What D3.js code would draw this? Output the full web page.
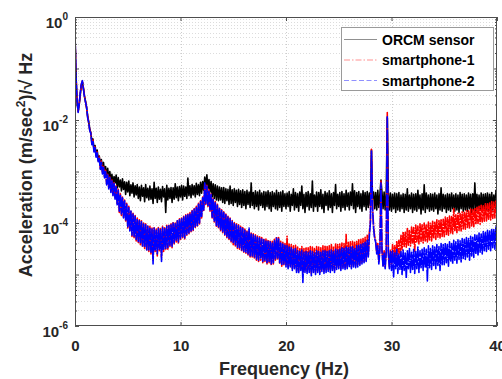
<!DOCTYPE html>
<html><head><meta charset="utf-8">
<script src="https://cdn.jsdelivr.net/npm/d3@7"></script>
<style>
body{margin:0;background:#fff;}
svg{display:block;font-family:"Liberation Sans",Arial,sans-serif;}
</style></head><body>
<svg id="chart" width="502" height="379"></svg>
<script>
// frequency sampling of the spectra (Hz)
const freqStep = 0.1;
const xTicks = [0, 10, 20, 30, 40];
const yTickExps = [0, -2, -4, -6];
const seriesNames = ["ORCM sensor", "smartphone-1", "smartphone-2"];

// amplitude spectral density, (m/sec^2)/sqrt(Hz), one value every 0.1 Hz from 0 to 40 Hz
const orcmSensor = [
0.4,0.065,0.022,0.015,0.02,0.031,0.047,0.054,0.041,0.029,
0.023,0.017,0.012,0.0092,0.0066,0.0057,0.0038,0.0043,0.0027,0.0032,
0.0021,0.0026,0.0017,0.002,0.0013,0.0017,0.0011,0.0015,9.5e-4,1.25e-3,
8e-4,1.15e-3,7e-4,1e-3,6.5e-4,8.8e-4,5.6e-4,8e-4,6e-4,8.5e-4,
4.8e-4,7.6e-4,5e-4,6.8e-4,4.2e-4,7.2e-4,4.5e-4,6.3e-4,3.6e-4,6.2e-4,
4e-4,6.5e-4,3.4e-4,5.5e-4,3.8e-4,6e-4,3.2e-4,5.3e-4,3.5e-4,5.6e-4,
3e-4,5e-4,2.7e-4,5.4e-4,3.3e-4,4.8e-4,2.6e-4,5.6e-4,3.1e-4,4.7e-4,
2.8e-4,5.2e-4,2.9e-4,4.6e-4,2.4e-4,6.2e-4,3e-4,4.7e-4,2.5e-4,5e-4,
2.9e-4,4.5e-4,2.6e-4,5.1e-4,3.2e-4,4.6e-4,1.6e-4,5.4e-4,2.8e-4,4.7e-4,
3e-4,4.9e-4,2.5e-4,4.8e-4,2.9e-4,5.8e-4,3.1e-4,5e-4,2.7e-4,5.1e-4,
3.2e-4,5.4e-4,2.8e-4,5.2e-4,3.3e-4,5e-4,3e-4,7.5e-4,3.4e-4,5.3e-4,
3.1e-4,5.6e-4,3.5e-4,5.3e-4,3.2e-4,5.9e-4,3.6e-4,5.5e-4,3.4e-4,6.2e-4,
3.8e-4,6.4e-4,4.3e-4,7.8e-4,5e-4,8.6e-4,4.6e-4,7e-4,4e-4,6.4e-4,
3.2e-4,5.8e-4,3e-4,5.5e-4,2.8e-4,5.2e-4,2.7e-4,5e-4,2.8e-4,4.8e-4,
2.5e-4,4.9e-4,2.4e-4,4.6e-4,2.7e-4,4.5e-4,2.3e-4,5.2e-4,2.4e-4,4.4e-4,
2.2e-4,4.6e-4,2.5e-4,4.3e-4,2.1e-4,4.5e-4,2.3e-4,4.2e-4,2e-4,4.4e-4,
2.2e-4,4.1e-4,1.9e-4,4.3e-4,2.3e-4,4e-4,2e-4,6e-4,2.2e-4,3.9e-4,
1.9e-4,4.2e-4,2.1e-4,4e-4,1.8e-4,4.3e-4,2.2e-4,3.8e-4,2e-4,4.1e-4,
1.8e-4,4e-4,2.1e-4,4.2e-4,1.9e-4,3.9e-4,1.7e-4,4.1e-4,2.1e-4,3.8e-4,
1.9e-4,4.3e-4,1.8e-4,3.9e-4,2e-4,4e-4,1.7e-4,4.2e-4,2.1e-4,3.7e-4,
1.9e-4,3.8e-4,2.1e-4,4.1e-4,1.7e-4,3.6e-4,2.2e-4,4.6e-4,1.8e-4,3.9e-4,
2e-4,3.7e-4,1.7e-4,4e-4,2.2e-4,5.2e-4,1.9e-4,3.6e-4,1.6e-4,3.9e-4,
2.1e-4,4.1e-4,1.8e-4,3.7e-4,2e-4,6.5e-4,1.7e-4,3.5e-4,2.1e-4,4e-4,
1.7e-4,3.9e-4,2.1e-4,4.4e-4,1.9e-4,3.6e-4,1.6e-4,4.1e-4,2.2e-4,3.8e-4,
1.8e-4,4.2e-4,2e-4,3.7e-4,1.6e-4,3.9e-4,2.2e-4,5.6e-4,1.9e-4,3.6e-4,
2.1e-4,3.9e-4,1.7e-4,4.1e-4,2e-4,3.7e-4,1.8e-4,4.3e-4,2.1e-4,3.8e-4,
1.8e-4,4e-4,2.2e-4,5.8e-4,1.9e-4,4.2e-4,1.6e-4,3.9e-4,2.1e-4,4.1e-4,
1.9e-4,3.7e-4,1.7e-4,4.2e-4,2.1e-4,3.9e-4,1.8e-4,4.1e-4,2e-4,3.8e-4,
2.2e-4,2.6e-3,3e-4,4e-4,1.9e-4,3.9e-4,1.8e-4,4.3e-4,2e-4,3.6e-4,
6.8e-4,3.9e-4,1.9e-4,4e-4,1.8e-4,3.8e-4,1.1e-2,3.9e-4,1.8e-4,3.8e-4,
1.7e-4,3.6e-4,1.9e-4,3.8e-4,1.6e-4,3.7e-4,1.8e-4,3.9e-4,1.7e-4,3.5e-4,
1.9e-4,3.7e-4,1.6e-4,3.6e-4,1.8e-4,4.6e-4,1.7e-4,3.5e-4,1.9e-4,3.8e-4,
1.6e-4,3.6e-4,1.8e-4,3.7e-4,1.7e-4,4.3e-4,1.9e-4,3.5e-4,1.5e-4,3.7e-4,
1.8e-4,5.5e-4,1.6e-4,3.8e-4,1.9e-4,3.5e-4,1.7e-4,3.7e-4,1.8e-4,3.6e-4,
1.7e-4,3.8e-4,1.9e-4,3.5e-4,1.5e-4,3.7e-4,1.8e-4,4.8e-4,1.7e-4,3.6e-4,
1.9e-4,3.5e-4,1.6e-4,3.7e-4,1.8e-4,3.6e-4,1.7e-4,3.8e-4,1.9e-4,3.5e-4,
1.7e-4,3.7e-4,1.8e-4,3.5e-4,1.6e-4,3.9e-4,1.9e-4,3.6e-4,1.7e-4,3.7e-4,
1.8e-4,3.5e-4,1.7e-4,3.8e-4,1.9e-4,3.6e-4,1.6e-4,3.7e-4,1.8e-4,6e-4,
1.7e-4,3.6e-4,1.9e-4,3.5e-4,1.8e-4,3.8e-4,1.7e-4,3.6e-4,1.9e-4,3.7e-4,
1.8e-4,3.8e-4,1.7e-4,3.6e-4,1.9e-4,3.9e-4,1.8e-4,3.5e-4,2e-4,4.3e-4,
2.7e-4];

const smartphone1 = [
0.45,0.068,0.023,0.0145,0.0205,0.033,0.049,0.057,0.041,0.029,
0.0225,0.0175,0.0115,0.0088,0.0064,0.0056,0.0034,0.0041,0.0025,0.003,
0.002,0.0024,0.0016,0.0019,0.00115,0.0016,9.5e-4,1.25e-3,7.8e-4,1.05e-3,
5.8e-4,8.8e-4,4.8e-4,7.8e-4,4.1e-4,6.8e-4,3.5e-4,6.1e-4,3e-4,5.3e-4,
2.3e-4,4.5e-4,1.6e-4,3.7e-4,1.4e-4,3.2e-4,1.3e-4,2.8e-4,1.1e-4,2.4e-4,
8e-5,2.1e-4,7.2e-5,1.75e-4,5.5e-5,1.55e-4,5.2e-5,1.4e-4,4.5e-5,1.25e-4,
4.2e-5,1.15e-4,3.8e-5,1.1e-4,3.4e-5,1e-4,3.2e-5,9.6e-5,2.9e-5,9e-5,
2.8e-5,8.6e-5,2.5e-5,8e-5,1.9e-5,8.4e-5,2.8e-5,7.6e-5,2.3e-5,8.2e-5,
2.9e-5,7.8e-5,2.2e-5,8.6e-5,2.8e-5,8.1e-5,3e-5,9e-5,3.1e-5,9.3e-5,
3.5e-5,9.6e-5,3.3e-5,1.05e-4,3.9e-5,1e-4,4.3e-5,1.15e-4,4.1e-5,1.2e-4,
4.8e-5,1.25e-4,5.2e-5,1.35e-4,4.9e-5,1.45e-4,5.8e-5,1.5e-4,6.2e-5,1.6e-4,
6.8e-5,1.75e-4,7.2e-5,1.9e-4,8.2e-5,2.1e-4,8.8e-5,2.4e-4,9.6e-5,2.7e-4,
1.25e-4,3.2e-4,1.75e-4,5.8e-4,2.3e-4,5.4e-4,2.1e-4,4.4e-4,1.7e-4,3.7e-4,
1.25e-4,3e-4,1.05e-4,2.6e-4,8.7e-5,2.3e-4,8.1e-5,2e-4,7.1e-5,1.8e-4,
6.5e-5,1.65e-4,5.8e-5,1.5e-4,5.2e-5,1.35e-4,4.8e-5,1.25e-4,4.3e-5,1.12e-4,
3.8e-5,1.02e-4,3.6e-5,9.6e-5,3.2e-5,9.2e-5,3.1e-5,8.6e-5,2.8e-5,8.2e-5,
2.7e-5,7.6e-5,2.6e-5,7e-5,2.4e-5,6.8e-5,2.2e-5,6.4e-5,2.2e-5,6.2e-5,
2.1e-5,5.9e-5,1.9e-5,5.6e-5,1.8e-5,5.4e-5,1.9e-5,5.2e-5,1.7e-5,5e-5,
1.8e-5,4.9e-5,1.6e-5,4.7e-5,1.7e-5,4.6e-5,1.5e-5,4.4e-5,1.6e-5,4.8e-5,
1.9e-5,5.4e-5,2e-5,5.2e-5,1.6e-5,4.4e-5,1.45e-5,4.2e-5,1.55e-5,4e-5,
1.5e-5,5.5e-5,1.4e-5,3.9e-5,1.5e-5,3.8e-5,1.3e-5,3.6e-5,1.4e-5,3.7e-5,
1.2e-5,3.4e-5,1.15e-5,3.3e-5,1.3e-5,3.5e-5,1.1e-5,3.2e-5,1.2e-5,3.3e-5,
1.15e-5,3.3e-5,1.2e-5,3.5e-5,1.05e-5,3.4e-5,1.2e-5,3.2e-5,1.1e-5,3.5e-5,
1.2e-5,3.4e-5,1.1e-5,3.3e-5,1.25e-5,3.6e-5,1.15e-5,3.7e-5,1.2e-5,3.5e-5,
1.25e-5,3.6e-5,1.2e-5,3.8e-5,1.3e-5,3.5e-5,1.2e-5,3.9e-5,1.35e-5,3.8e-5,
1.4e-5,3.9e-5,1.3e-5,4.1e-5,1.4e-5,4e-5,1.35e-5,6e-5,1.4e-5,4.2e-5,
1.5e-5,4.3e-5,1.4e-5,4.4e-5,1.5e-5,4.2e-5,1.45e-5,4.6e-5,1.5e-5,4.7e-5,
1.6e-5,4.8e-5,1.7e-5,5e-5,1.8e-5,5.3e-5,1.9e-5,5.8e-5,2.3e-5,6.5e-5,
1.1e-4,2.7e-3,2.2e-4,9e-5,5.5e-5,4.6e-5,2.7e-5,4e-5,1.8e-5,3.3e-5,
6.5e-4,3.1e-5,1.5e-5,2.9e-5,1.4e-5,3e-5,1.4e-2,2.8e-5,1.4e-5,3.1e-5,
1.6e-5,3.8e-5,1.8e-5,3.6e-5,2e-5,4.5e-5,2.2e-5,4.6e-5,2.5e-5,5.8e-5,
3e-5,6.8e-5,3.5e-5,6.6e-5,3.4e-5,7.8e-5,3.7e-5,7.4e-5,3.6e-5,8.3e-5,
4.1e-5,8.2e-5,2.8e-5,9.1e-5,4.3e-5,8.7e-5,3.9e-5,9.6e-5,4.4e-5,9.2e-5,
4.1e-5,1e-4,4.5e-5,9.5e-5,4.3e-5,1.04e-4,4.7e-5,9.9e-5,4.5e-5,1.08e-4,
5e-5,1.07e-4,4.8e-5,1.15e-4,5.3e-5,1.12e-4,5.1e-5,1.21e-4,5.5e-5,1.18e-4,
5.4e-5,1.3e-4,6e-5,1.26e-4,5.8e-5,1.36e-4,6.4e-5,1.33e-4,6.2e-5,1.9e-4,
6.8e-5,1.45e-4,6.5e-5,1.55e-4,7.2e-5,1.52e-4,7e-5,1.65e-4,7.7e-5,1.62e-4,
7.6e-5,1.75e-4,8.2e-5,1.72e-4,8e-5,1.86e-4,8.8e-5,1.83e-4,8.5e-5,1.98e-4,
9.3e-5,2.02e-4,9.8e-5,2.1e-4,9.5e-5,2.2e-4,1.05e-4,2.16e-4,1.08e-4,2.35e-4,
1.1e-4,2.35e-4,1.18e-4,2.45e-4,1.14e-4,2.6e-4,1.22e-4,2.55e-4,1.25e-4,2.8e-4,
1.9e-4];

const smartphone2 = [
0.5,0.07,0.024,0.014,0.021,0.034,0.05,0.058,0.04,0.028,
0.022,0.018,0.011,0.009,0.0062,0.0055,0.0033,0.004,0.0024,0.0029,
0.0019,0.0023,0.0015,0.0018,0.0011,0.0015,9e-4,1.2e-3,7.5e-4,1e-3,
5.5e-4,8.5e-4,4.6e-4,7.6e-4,3.9e-4,6.6e-4,3.4e-4,5.9e-4,2.9e-4,5.1e-4,
2.2e-4,4.3e-4,1.7e-4,3.6e-4,1.5e-4,3.1e-4,1.25e-4,2.7e-4,1.15e-4,2.3e-4,
8.5e-5,2e-4,7e-5,1.7e-4,5.8e-5,1.5e-4,5.5e-5,1.35e-4,4.8e-5,1.2e-4,
4.4e-5,1.1e-4,4e-5,1.05e-4,3.6e-5,9.5e-5,3.4e-5,9.2e-5,3e-5,8.6e-5,
3e-5,8.2e-5,2.7e-5,7.6e-5,1.6e-5,8e-5,3e-5,7.2e-5,2.5e-5,7.8e-5,
3.1e-5,7.4e-5,1.8e-5,8.2e-5,3e-5,7.7e-5,3.2e-5,8.6e-5,3.3e-5,8.9e-5,
3.7e-5,9.2e-5,3.5e-5,1e-4,4.1e-5,9.6e-5,4.5e-5,1.1e-4,4.3e-5,1.15e-4,
5e-5,1.2e-4,5.4e-5,1.3e-4,5.1e-5,1.4e-4,6e-5,1.45e-4,6.4e-5,1.55e-4,
7e-5,1.7e-4,7.4e-5,1.85e-4,8.5e-5,2e-4,9e-5,2.3e-4,1e-4,2.6e-4,
1.3e-4,3.1e-4,1.8e-4,6e-4,2.4e-4,5.2e-4,2.2e-4,4.3e-4,1.8e-4,3.6e-4,
1.3e-4,2.9e-4,1.1e-4,2.5e-4,9e-5,2.2e-4,8.4e-5,1.9e-4,7.4e-5,1.75e-4,
6.8e-5,1.6e-4,6e-5,1.45e-4,5.4e-5,1.3e-4,5e-5,1.2e-4,4.5e-5,1.08e-4,
4e-5,9.8e-5,3.8e-5,9.2e-5,3.4e-5,8.8e-5,3.3e-5,8.2e-5,3e-5,7.8e-5,
2.8e-5,7.2e-5,2.7e-5,6.7e-5,2.5e-5,8e-5,2.3e-5,6.1e-5,2.3e-5,5.9e-5,
2.2e-5,5.6e-5,2e-5,5.3e-5,1.9e-5,5.1e-5,2e-5,4.9e-5,1.8e-5,4.7e-5,
1.9e-5,4.6e-5,1.7e-5,4.4e-5,1.8e-5,4.3e-5,1.6e-5,4.1e-5,1.7e-5,4.5e-5,
2e-5,5.1e-5,2.1e-5,4.9e-5,1.7e-5,4.1e-5,1.5e-5,3.9e-5,1.6e-5,3.7e-5,
1.4e-5,3.6e-5,1.3e-5,3.4e-5,1.4e-5,3.3e-5,1.2e-5,3.1e-5,1.3e-5,3.2e-5,
1.1e-5,2.9e-5,1.05e-5,2.8e-5,1.2e-5,3e-5,7e-6,2.7e-5,1.1e-5,2.8e-5,
1.05e-5,2.7e-5,1.1e-5,2.9e-5,9.5e-6,2.8e-5,1.1e-5,2.6e-5,1e-5,2.9e-5,
1.1e-5,2.8e-5,1e-5,2.7e-5,1.15e-5,2.9e-5,1.05e-5,3e-5,1.1e-5,2.8e-5,
1.15e-5,2.9e-5,1.1e-5,3e-5,1.2e-5,2.8e-5,1.1e-5,3.1e-5,1.25e-5,3e-5,
1.3e-5,3.1e-5,1.2e-5,3.3e-5,1.3e-5,3.2e-5,1.25e-5,3.4e-5,1.3e-5,3.3e-5,
1.35e-5,3.4e-5,1.3e-5,3.5e-5,1.4e-5,3.3e-5,1.35e-5,3.6e-5,1.4e-5,3.7e-5,
1.5e-5,3.8e-5,1.6e-5,4e-5,1.7e-5,4.2e-5,1.8e-5,4.6e-5,2.2e-5,5.5e-5,
1e-4,2.5e-3,2e-4,8e-5,5e-5,4.2e-5,2.5e-5,3.6e-5,1.6e-5,3e-5,
6e-4,2.8e-5,1.4e-5,2.6e-5,1.3e-5,2.7e-5,1.2e-2,2.5e-5,1.3e-5,2.8e-5,
1.2e-5,2.9e-5,9e-6,2.6e-5,1.3e-5,3.1e-5,1.05e-5,2.5e-5,1.25e-5,2.8e-5,
1e-5,3e-5,1.2e-5,2.6e-5,8.5e-6,2.9e-5,1.3e-5,3.2e-5,1.1e-5,2.7e-5,
1.25e-5,3.1e-5,1.05e-5,2.8e-5,1.3e-5,3.4e-5,1.1e-5,2.9e-5,1.35e-5,3.1e-5,
1.2e-5,3.3e-5,1.4e-5,3.1e-5,7.5e-6,3.6e-5,1.35e-5,3.2e-5,1.25e-5,3.6e-5,
1.5e-5,3.4e-5,1.3e-5,3.8e-5,1.5e-5,3.5e-5,1.2e-5,4e-5,1.55e-5,3.8e-5,
1.55e-5,4.1e-5,1.7e-5,3.8e-5,1.45e-5,4.3e-5,1.75e-5,4e-5,1.6e-5,4.6e-5,
1.9e-5,4.3e-5,1.65e-5,4.7e-5,1.95e-5,4.5e-5,1.75e-5,5e-5,2.05e-5,4.8e-5,
1.95e-5,5.2e-5,2.2e-5,5e-5,1.9e-5,5.5e-5,2.3e-5,5.3e-5,2.15e-5,5.9e-5,
2.5e-5,5.8e-5,2.3e-5,6.4e-5,2.7e-5,6.1e-5,2.5e-5,6.8e-5,2.9e-5,6.6e-5,
2.8e-5,7.2e-5,3.1e-5,7e-5,2.9e-5,7.8e-5,3.3e-5,7.5e-5,3.1e-5,8.3e-5,
5.2e-5];

const seriesValues = [orcmSensor, smartphone1, smartphone2];
const seriesColors = ["#000000", "#ff0000", "#0000ff"];
const seriesDash = [null, "6,2,1.5,2", "5,2.5"];
const seriesDataDash = [null, "10,1,2,1", "12,1"];

const svg = d3.select("#chart");
const X0 = 75, X1 = 497, Y0 = 17, Y1 = 326;
const x = d3.scaleLinear().domain([0, 40]).range([X0, X1]);
const y = d3.scaleLog().domain([1e-6, 1]).range([Y1, Y0]);
const ink = "#262626";

svg.append("rect").attr("x", 0).attr("y", 0).attr("width", 502).attr("height", 379).attr("fill", "#fff");
svg.append("rect").attr("x", X0).attr("y", Y0).attr("width", X1 - X0).attr("height", Y1 - Y0).attr("fill", "#fff");

// grid values
const majorY = d3.range(-6, 1).map(e => Math.pow(10, e));
const minorY = [];
for (let e = -6; e < 0; e++) for (let k = 2; k <= 9; k++) minorY.push(k * Math.pow(10, e));

const grid = svg.append("g").attr("shape-rendering", "crispEdges");
grid.selectAll(".gy").data(majorY.concat(minorY).filter(v => v > 1e-6 && v < 1)).join("line")
  .attr("x1", X0).attr("x2", X1).attr("y1", d => Math.round(y(d)) + 0.5).attr("y2", d => Math.round(y(d)) + 0.5)
  .attr("stroke", "#dcdcdc").attr("stroke-width", 1).attr("stroke-dasharray", "1,2");
grid.selectAll(".gx").data(xTicks.filter(v => v > 0 && v < 40)).join("line")
  .attr("y1", Y0).attr("y2", Y1).attr("x1", d => Math.round(x(d)) + 0.5).attr("x2", d => Math.round(x(d)) + 0.5)
  .attr("stroke", "#cdcdcd").attr("stroke-width", 1).attr("stroke-dasharray", "1,2");

// data
svg.append("clipPath").attr("id", "plotclip").append("rect")
  .attr("x", X0).attr("y", Y0).attr("width", X1 - X0).attr("height", Y1 - Y0);
const line = d3.line().x((d, i) => x(i * freqStep)).y(d => y(d));
const dataG = svg.append("g").attr("clip-path", "url(#plotclip)");
seriesValues.forEach((vals, s) => {
  dataG.append("path").datum(vals).attr("d", line)
    .attr("fill", "none").attr("stroke", seriesColors[s]).attr("stroke-width", 1.6)
    .attr("stroke-dasharray", seriesDataDash[s]).attr("stroke-linejoin", "round");
});

// axes
function styleAxis(g) {
  g.selectAll(".domain").remove();
  g.selectAll(".tick line").attr("stroke", ink).attr("stroke-width", 0.8);
}
const gB = svg.append("g").attr("transform", `translate(0,${Y1})`)
  .call(d3.axisBottom(x).tickValues(xTicks).tickSizeInner(-4).tickSizeOuter(0).tickPadding(14));
styleAxis(gB);
gB.selectAll(".tick text").attr("font-size", 15).attr("font-weight", "bold").attr("fill", ink)
  .attr("font-family", "Liberation Sans, Arial, sans-serif");
const gT = svg.append("g").attr("transform", `translate(0,${Y0})`)
  .call(d3.axisTop(x).tickValues(xTicks).tickSizeInner(-4).tickSizeOuter(0).tickFormat(""));
styleAxis(gT);

const gL = svg.append("g").attr("transform", `translate(${X0},0)`)
  .call(d3.axisLeft(y).tickValues(majorY).tickSizeInner(-4).tickSizeOuter(0).tickPadding(7));
styleAxis(gL);
gL.selectAll(".tick text").each(function(d) {
  const e = Math.round(Math.log10(d));
  const t = d3.select(this).text(null).attr("dy", null).attr("y", 10)
    .attr("font-family", "Liberation Sans, Arial, sans-serif").attr("font-weight", "bold").attr("fill", ink);
  if (!yTickExps.includes(e)) return;
  t.append("tspan").attr("font-size", 15).text("10");
  t.append("tspan").attr("font-size", 10).attr("dy", -7.5).text(String(e));
});
const gLm = svg.append("g").attr("transform", `translate(${X0},0)`)
  .call(d3.axisLeft(y).tickValues(minorY).tickSizeInner(-2).tickSizeOuter(0).tickFormat(""));
styleAxis(gLm);
const gR = svg.append("g").attr("transform", `translate(${X1},0)`)
  .call(d3.axisRight(y).tickValues(majorY).tickSizeInner(-4).tickSizeOuter(0).tickFormat(""));
styleAxis(gR);
const gRm = svg.append("g").attr("transform", `translate(${X1},0)`)
  .call(d3.axisRight(y).tickValues(minorY).tickSizeInner(-2).tickSizeOuter(0).tickFormat(""));
styleAxis(gRm);

// box
svg.append("rect").attr("x", X0 + 0.5).attr("y", Y0 + 0.5).attr("width", X1 - X0 - 1).attr("height", Y1 - Y0 - 1)
  .attr("fill", "none").attr("stroke", "#4d4d4d").attr("stroke-width", 1).attr("shape-rendering", "crispEdges");

// axis titles
svg.append("text").attr("x", (X0 + X1) / 2 - 2).attr("y", 375).attr("text-anchor", "middle")
  .attr("font-size", 18).attr("font-weight", "bold").attr("fill", ink).text("Frequency (Hz)");
const yt = svg.append("text").attr("transform", "translate(32,165) rotate(-90)").attr("text-anchor", "middle")
  .attr("font-size", 18).attr("font-weight", "bold").attr("fill", ink);
yt.append("tspan").text("Acceleration (m/sec");
yt.append("tspan").attr("font-size", 12).attr("dy", -7).text("2");
yt.append("tspan").attr("dy", 7).text(")/\u221A Hz");

// legend
const lg = svg.append("g");
lg.append("rect").attr("x", 341.5).attr("y", 27.5).attr("width", 152).attr("height", 63)
  .attr("fill", "#fff").attr("stroke", "#9a9a9a").attr("stroke-width", 1);
const legendY = [39.5, 60, 80.5];
seriesNames.forEach((name, i) => {
  lg.append("line").attr("x1", 344).attr("x2", 377).attr("y1", legendY[i]).attr("y2", legendY[i])
    .attr("stroke", seriesColors[i]).attr("stroke-width", 0.8).attr("stroke-opacity", 0.55)
    .attr("stroke-dasharray", seriesDash[i]);
  lg.append("text").attr("x", 382).attr("y", legendY[i] + 5).attr("font-size", 14).attr("font-weight", "bold")
    .attr("fill", "#000").text(name);
});
</script>
</body></html>
